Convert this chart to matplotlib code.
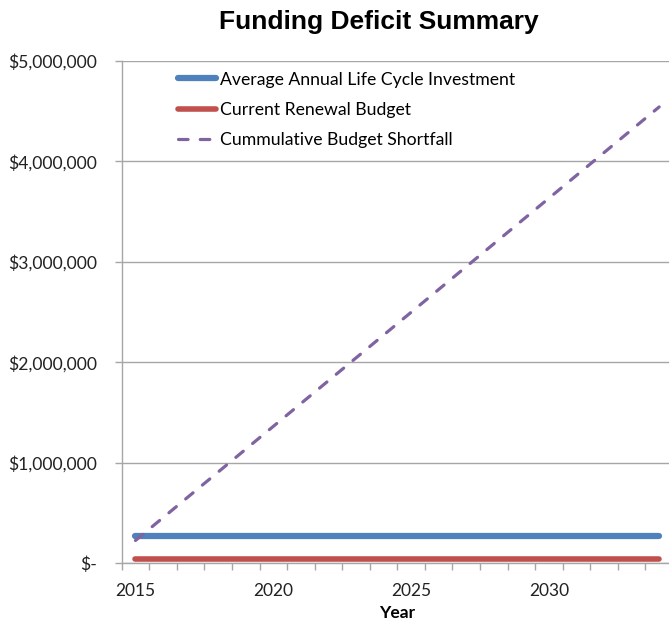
import matplotlib
matplotlib.use('Agg')
import matplotlib.pyplot as plt
from matplotlib.ticker import FixedLocator, FuncFormatter

years = list(range(2015, 2035))
life_cycle = [272000] * 20
renewal = [45000] * 20
shortfall = [227000, 454000, 681000, 908000, 1135000, 1362000, 1589000,
             1816000, 2043000, 2270000, 2497000, 2724000, 2951000, 3178000,
             3405000, 3632000, 3859000, 4086000, 4313000, 4540000]
year_labels = ['2015', '2020', '2025', '2030']

font = 'Lato'
grey = '#a6a6a6'

fig = plt.figure(figsize=(6.69, 6.22), dpi=100)
ax = fig.add_axes([0.1819, 0.0944, 0.824, 0.808])

x = list(range(len(years)))
ax.plot(x, life_cycle, color='#4F81BD', lw=4.5, solid_capstyle='round',
        label='Average Annual Life Cycle Investment')
ax.plot(x, renewal, color='#C0504D', lw=4.0, solid_capstyle='round',
        label='Current Renewal Budget')
ax.plot(x, shortfall, color='#8064A2', lw=2.3, dashes=(3, 3.8),
        dash_capstyle='round', label='Cummulative Budget Shortfall')

ax.set_xlim(-0.5, len(years) - 0.5)
ax.set_ylim(0, 5000000)

# category axis: labels every 5 years, tick marks between categories
ax.set_xticks([years.index(int(y)) for y in year_labels])
ax.set_xticklabels(year_labels, fontfamily=font, fontsize=12.5, color='#222222')
ax.tick_params(axis='x', which='major', length=0, pad=14.4)
ax.xaxis.set_minor_locator(FixedLocator([i - 0.5 for i in range(len(years) + 1)]))
ax.tick_params(axis='x', which='minor', length=5, width=1, color=grey, direction='out')

ax.set_yticks([0, 1000000, 2000000, 3000000, 4000000, 5000000])
ax.yaxis.set_major_formatter(FuncFormatter(lambda v, p: '$-' if v == 0 else '${:,.0f}'.format(v)))
ax.tick_params(axis='y', length=5, width=1, color=grey, pad=12.7, labelsize=12.6, labelcolor='#222222')
for t in ax.get_yticklabels():
    t.set_fontfamily(font)

ax.grid(axis='y', color=grey, lw=1)
ax.set_axisbelow(True)
for s in ['top', 'right']:
    ax.spines[s].set_visible(False)
for s in ['left', 'bottom']:
    ax.spines[s].set_color(grey)
    ax.spines[s].set_linewidth(1)

ax.set_xlabel('Year', fontfamily=font, fontweight='bold', fontsize=12.5, labelpad=4)

leg = ax.legend(loc='upper left', bbox_to_anchor=(0.08, 1.003), frameon=False,
                prop={'family': font, 'size': 12.7}, handlelength=2.15,
                handletextpad=0.2, labelspacing=0.82, borderaxespad=0.3)

fig.text(379 / 669, 1 - 28.5 / 622, 'Funding Deficit Summary', ha='center', va='baseline',
         fontfamily='Liberation Sans', fontweight='bold', fontsize=19)

fig.savefig('out.png', dpi=100)
